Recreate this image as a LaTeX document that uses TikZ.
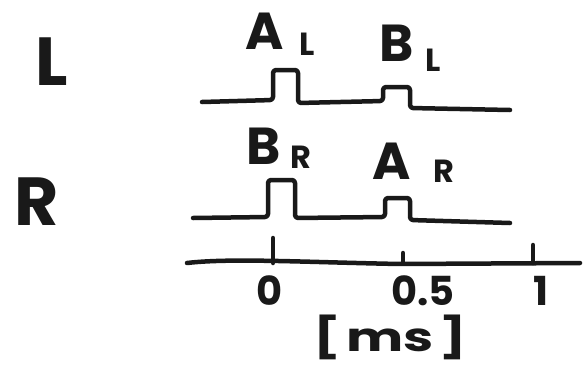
\documentclass[tikz,border=0pt]{standalone}
\usepackage{fontspec}
\usepackage{graphicx}
\setmainfont{Poppins}
\begin{document}
\begin{tikzpicture}[x=1pt,y=-1pt,
  ink/.style={draw=black!90,line width=4.5pt,line cap=round,line join=round,rounded corners=3pt},
  big/.style={font=\fontsize{68}{68}\selectfont\bfseries,text=black!90,inner sep=0pt},
  pulselab/.style={font=\fontsize{52}{52}\selectfont\bfseries,text=black!90,inner sep=0pt},
  sublab/.style={font=\fontsize{32}{32}\selectfont\bfseries,text=black!90,inner sep=0pt},
  num/.style={font=\fontsize{40}{40}\selectfont\bfseries,text=black!90,inner sep=0pt}]
\useasboundingbox[fill=white] (0,0) rectangle (583,370);

% channel names
\node[big] (chL) at (52,62) {L};
\node[big] (chR) at (37,202) {R};

% pulse labels, upper trace
\node[pulselab] (aL) at (265,31) {A};
\node[sublab] (aLs) at (307,44) {L};
\node[pulselab] (bL) at (397,43) {B};
\node[sublab] (bLs) at (433,60) {L};

% pulse labels, lower trace
\node[pulselab] (bR) at (264,146) {B};
\node[sublab] (bRs) at (301,157) {R};
\node[pulselab] (aR) at (392,161) {A};
\node[sublab] (aRs) at (444,171) {R};

% upper trace: tall pulse then short pulse
\draw[ink] (202,102) -- (273,100) -- (273,70) -- (298,70) -- (298,103)
  -- (383,101) -- (383,87) -- (410,87) -- (410,108) -- (510,110);

% lower trace: tall pulse then short pulse
\draw[ink] (193,218) -- (268,217) -- (268,180) -- (295,180) -- (295,218)
  -- (385,217) -- (385,198) -- (410,198) -- (410,220) -- (510,223);

% time axis with ticks
\draw[ink] (187,263) .. controls (230,258) and (300,262) .. (400,264) -- (580,263);
\draw[ink] (273,238) -- (273,263);
\draw[ink] (403,253) -- (403,263);
\draw[ink] (533,245) -- (533,263);

\node[num] (t0) at (270,291) {0};
\node[num] (t05) at (423,291) {0.5};
\node[num] (t1) at (541,291) {1};
\node[num] (unit) at (390,337) {\scalebox{1.35}[1]{[\hspace{4pt}ms\hspace{4pt}]}};
\end{tikzpicture}
\end{document}
